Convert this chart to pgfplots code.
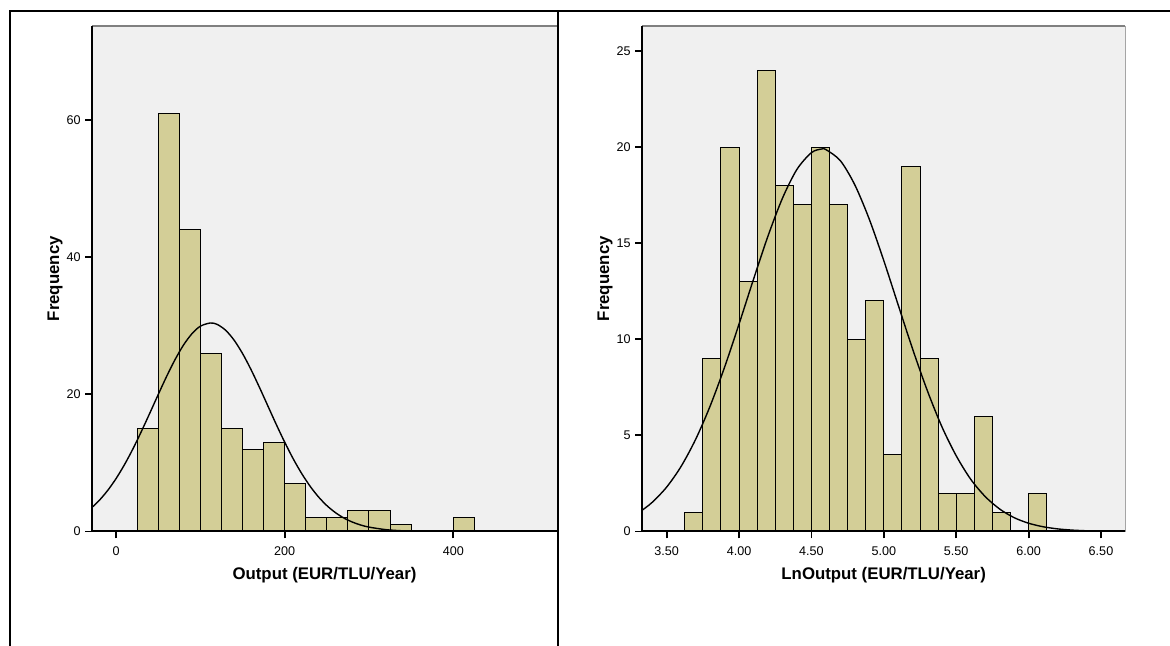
\documentclass[border=0pt]{standalone}
\usepackage{fontspec}
\setmainfont{Liberation Sans}
\usepackage{pgfplots}
\pgfplotsset{compat=1.18}
\definecolor{barfill}{RGB}{211,206,151}
\definecolor{panel}{RGB}{240,240,240}
\definecolor{topline}{RGB}{128,128,128}

\pgfplotsset{spss/.style={
  scale only axis,
  axis background/.style={fill=panel},
  axis x line=bottom, axis y line=left,
  axis line style={-, line width=1pt, black},
  tick align=outside, major tick length=3.5pt,
  tick style={black, line width=0.9pt},
  minor tick num=0, ymin=0,
  /pgf/number format/assume math mode=true,
  ticklabel style={font=\fontsize{6.3}{7.5}\selectfont},
  label style={font=\bfseries\fontsize{8.4}{10}\selectfont},
  xticklabel style={inner sep=0pt, yshift=-4pt},
  yticklabel style={inner sep=0pt, xshift=-2pt},
  axis on top,
}}

\begin{document}
\begin{tikzpicture}
\useasboundingbox (0pt,0pt) rectangle (585pt,323pt);
\clip (0pt,0pt) rectangle (585pt,323pt);

% left: Output
\begin{axis}[spss,
  at={(46pt,57.25pt)}, anchor=south west,
  width=232.5pt, height=252.75pt,
  xmin=-28.5, xmax=523, ymax=73.7,
  xtick={0,200,400}, ytick={0,20,40,60},
  xlabel={Output (EUR/TLU/Year)}, ylabel={Frequency},
  xlabel style={at={(axis description cs:0.5,-0.0857)}, anchor=center},
  ylabel style={at={(axis description cs:-0.0796,0.5)}, anchor=center},
]
\addplot[ybar interval, fill=barfill, draw=black, line width=0.5pt] coordinates {
(25,15)(50,61)(75,44)(100,26)(125,15)(150,12)(175,13)(200,7)(225,2)(250,2)
(275,3)(300,3)(325,1)(350,0)};
\addplot[ybar interval, fill=barfill, draw=black, line width=0.5pt] coordinates {
(400,2)(425,0)};
\addplot[black, line width=0.7pt, smooth] coordinates {
(-28.5,3.51)(-20,4.52)(-10,5.97)(0,7.71)(10,9.74)(20,12.04)(30,14.57)(40,17.24)
(50,19.96)(60,22.61)(70,25.06)(80,27.18)(90,28.83)(100,29.93)(112,30.4)(120,30.19)
(130,29.34)(140,27.90)(150,25.96)(160,23.63)(170,21.04)(180,18.33)(190,15.62)
(200,13.03)(210,10.63)(220,8.49)(230,6.63)(240,5.06)(250,3.78)(260,2.77)(270,1.98)
(280,1.39)(290,0.95)(300,0.64)(320,0.27)(340,0.10)(360,0.036)(380,0.012)(400,0.003)
(450,0)(523,0)};
\draw[topline, line width=0.8pt] (rel axis cs:0,1) -- (rel axis cs:1,1);
\end{axis}

% right: LnOutput
\begin{axis}[spss,
  at={(321pt,57.25pt)}, anchor=south west,
  width=241.65pt, height=252.75pt,
  xmin=3.33, xmax=6.668, ymax=26.3,
  xtick={3.5,4,4.5,5,5.5,6,6.5}, ytick={0,5,10,15,20,25},
  xticklabel style={/pgf/number format/.cd, fixed, fixed zerofill, precision=2},
  xlabel={LnOutput (EUR/TLU/Year)}, ylabel={Frequency},
  xlabel style={at={(axis description cs:0.5,-0.0871)}, anchor=center},
  ylabel style={at={(axis description cs:-0.0766,0.5)}, anchor=center},
]
\addplot[ybar interval, fill=barfill, draw=black, line width=0.5pt] coordinates {
(3.625,1)(3.75,9)(3.875,20)(4.0,13)(4.125,24)(4.25,18)(4.375,17)(4.5,20)(4.625,17)
(4.75,10)(4.875,12)(5.0,4)(5.125,19)(5.25,9)(5.375,2)(5.5,2)(5.625,6)(5.75,1)(5.875,0)};
\addplot[ybar interval, fill=barfill, draw=black, line width=0.5pt] coordinates {
(6.0,2)(6.125,0)};
\addplot[black, line width=0.7pt, smooth] coordinates {
(3.33,1.104)(3.4,1.515)(3.5,2.308)(3.6,3.387)(3.7,4.788)(3.8,6.517)(3.9,8.543)
(4.0,10.79)(4.1,13.12)(4.2,15.37)(4.3,17.34)(4.4,18.84)(4.5,19.71)(4.571,19.9)
(4.6,19.87)(4.7,19.29)(4.8,18.03)(4.9,16.24)(5.0,14.09)(5.1,11.77)(5.2,9.47)
(5.3,7.34)(5.4,5.47)(5.5,3.94)(5.6,2.72)(5.7,1.82)(5.8,1.17)(5.9,0.721)(6.0,0.430)
(6.1,0.247)(6.2,0.136)(6.3,0.0726)(6.4,0.0372)(6.5,0.0183)(6.668,0.005)};
\draw[topline, line width=0.8pt] (rel axis cs:0,1) -- (rel axis cs:1,1);
\draw[black, line width=0.6pt] (rel axis cs:1,0) -- (rel axis cs:1,1);
\end{axis}

% outer frame of the two cells
\draw[black, line width=1pt] (5pt,-5pt) -- (5pt,317.5pt) -- (590pt,317.5pt);
\draw[black, line width=1pt] (278.75pt,317.5pt) -- (278.75pt,-5pt);
\end{tikzpicture}
\end{document}
